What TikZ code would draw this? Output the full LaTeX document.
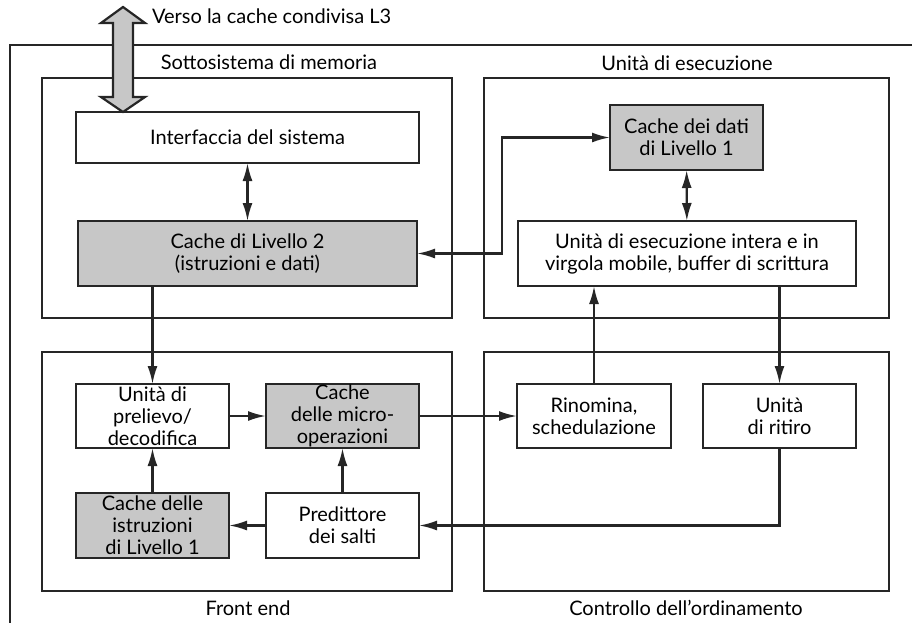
\documentclass[tikz,border=0pt]{standalone}
\usepackage{fontspec}
\setmainfont{Lato}
\usetikzlibrary{positioning}
\usetikzlibrary{arrows.meta}
\definecolor{cachegray}{gray}{0.78}
\tikzset{
    blockw/.style = {rectangle, draw=black!85, line width=1.1pt, fill=white, align=center, inner sep=0pt, outer sep=0pt, font=\fontsize{10}{11}\selectfont},
    blockg/.style = {blockw, fill=cachegray},
    groupbox/.style = {rectangle, draw=black!85, line width=1.1pt, inner sep=0pt, outer sep=0pt},
    grouplabel/.style = {font=\fontsize{10}{11}\selectfont},
    edgea/.style = {-{Latex[length=9pt,width=5pt]}, line width=1.1pt, black!85},
    edgedd/.style = {{Latex[length=9pt,width=5pt]}-{Latex[length=9pt,width=5pt]}, line width=1.1pt, black!85},
}
\begin{document}
\begin{tikzpicture}[x=0.5pt,y=-0.5pt]
\path[use as bounding box] (0,0) rectangle (912,623);

% cornice esterna
\draw[line width=1.1pt, black!85] (912,45) -- (10,45) -- (10,623);

% sottosistemi
\node[groupbox, minimum width=205pt, minimum height=120pt] at (247,198) (mem) {};
\node[groupbox, minimum width=202.5pt, minimum height=120pt] at (686.5,198) (exe) {};
\node[groupbox, minimum width=205pt, minimum height=119.5pt] at (247,471.5) (fe) {};
\node[groupbox, minimum width=202.5pt, minimum height=119.5pt] at (686.5,471.5) (ooo) {};
\node[grouplabel] at (269,62) (memlab) {Sottosistema di memoria};
\node[grouplabel] at (687,63) (exelab) {Unità di esecuzione};
\node[grouplabel] at (248,608) (felab) {Front end};
\node[grouplabel] at (686,608) (ooolab) {Controllo dell’ordinamento};

%
\node[blockw, minimum width=171.5pt, minimum height=25.5pt] at (247.5,137.5) (intf) {Interfaccia del sistema};
\node[blockg, minimum width=169.5pt, minimum height=32.5pt] at (247.5,253.5) (l2) {Cache di Livello 2\\(istruzioni e dati)};
\node[blockg, minimum width=76.5pt, minimum height=32.5pt] at (686.5,137.5) (l1d) {Cache dei dati\\di Livello 1};
\node[blockw, minimum width=169pt, minimum height=32.5pt] at (687,253.5) (exec) {Unità di esecuzione intera e in\\virgola mobile, buffer di scrittura};
\node[blockw, minimum width=76.5pt, minimum height=32pt] at (152.5,416) (fetch) {Unità di\\prelievo/\\decodifica};
\node[blockg, minimum width=76.5pt, minimum height=32pt] at (342.5,416) (uops) {Cache\\delle micro-\\operazioni};
\node[blockg, minimum width=76.5pt, minimum height=32.5pt] at (152.5,525.5) (l1i) {Cache delle\\istruzioni\\di Livello 1};
\node[blockw, minimum width=76.5pt, minimum height=32.5pt] at (342.5,525.5) (bpred) {Predittore\\dei salti};
\node[blockw, minimum width=77pt, minimum height=32pt] at (594,416) (rename) {Rinomina,\\schedulazione};
\node[blockw, minimum width=76.5pt, minimum height=32pt] at (779.5,416) (retire) {Unità\\di ritiro};

% freccia verso L3
\coordinate (l3) at (123,7);
\filldraw[fill=cachegray, draw=black!85, line width=1.1pt]
  (l3) -- (145,23) -- (133,23) -- (133,97) -- (145,97) -- (intf.north -| l3)
  -- (101,97) -- (113,97) -- (113,23) -- (101,23) -- cycle;
\node[grouplabel, anchor=west] at (145,16) (l3lab) {Verso la cache condivisa L3};

%
\coordinate (bend) at (502,0);
\draw[edgedd] (intf) -- (l2);
\draw[edgedd] (l1d) -- (exec);
\draw[edgedd] (l2.east) -- (l2.east -| bend) |- (l1d.west);
\draw[edgea] (fetch |- l2.south) -- (fetch.north);
\draw[edgea] (fetch) -- (uops);
\draw[edgea] (l1i) -- (fetch);
\draw[edgea] (bpred) -- (uops);
\draw[edgea] (bpred) -- (l1i);
\draw[edgea] (uops) -- (rename);
\draw[edgea] (rename) -- (rename |- exec.south);
\draw[edgea] (exec.south -| retire) -- (retire);
\draw[edgea] (retire.south) |- (bpred.east);

\end{tikzpicture}
\end{document}
